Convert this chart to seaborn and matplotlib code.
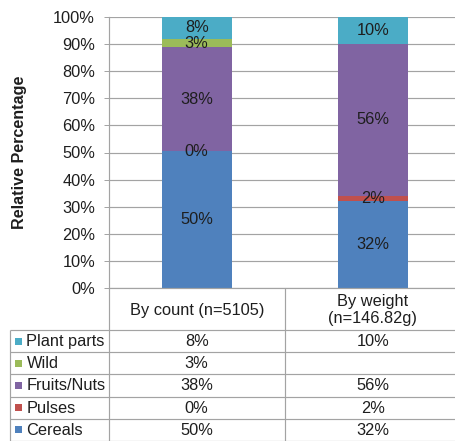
import matplotlib
matplotlib.use("Agg")
import matplotlib.pyplot as plt
import numpy as np
import pandas as pd
import seaborn as sns
from matplotlib.patches import Rectangle

# ---- data -------------------------------------------------------------
categories = ["By count (n=5105)", "By weight\n(n=146.82g)"]
# stacking order, bottom to top
series = ["Cereals", "Pulses", "Fruits/Nuts", "Wild", "Plant parts"]
cereals = [50, 32]
pulses = [0, 2]
fruits_nuts = [38, 56]
wild = [3, None]
plant_parts = [8, 10]
colors = ["#4F81BD", "#C0504D", "#8064A2", "#9BBB59", "#4BACC6"]
y_ticks = [0, 10, 20, 30, 40, 50, 60, 70, 80, 90, 100]
y_tick_labels = [f"{t}%" for t in y_ticks]
y_label = "Relative Percentage"

# ---- style ------------------------------------------------------------
plt.rcParams["font.family"] = ["Liberation Sans", "DejaVu Sans"]
TEXT = "#1e1e1e"
LINE = "#a3a3a3"
FS = 11.8

values = np.array([cereals, pulses, fruits_nuts, wild, plant_parts], dtype=float)
filled = np.nan_to_num(values)
share = filled / filled.sum(axis=0) * 100          # 100% stacked
tops = np.cumsum(share, axis=0)

W, H = 455, 441
fig = plt.figure(figsize=(W / 100, H / 100), dpi=100)

ax_left, ax_right, ax_top, ax_bot = 108.7, 460.7, 17.0, 288.0
ax = fig.add_axes([ax_left / W, 1 - ax_bot / H,
                   (ax_right - ax_left) / W, (ax_bot - ax_top) / H])

# stacked bars: draw cumulative heights from the top series down
for i in reversed(range(len(series))):
    df = pd.DataFrame({"category": categories, "top": tops[i]})
    sns.barplot(data=df, x="category", y="top", color=colors[i], width=0.4,
                saturation=1, linewidth=0, ax=ax, zorder=2)

# segment labels
for i in range(len(series)):
    for j in range(len(categories)):
        if np.isnan(values[i, j]):
            continue
        ymid = tops[i, j] - share[i, j] / 2
        ax.text(j, ymid, f"{values[i, j]:.0f}%", ha="center", va="center",
                fontsize=FS, color=TEXT, zorder=3)

ax.set_xlim(-0.5, 1.5)
ax.set_ylim(0, 100)
ax.set_yticks(y_ticks)
ax.set_yticklabels(y_tick_labels)
ax.set_xlabel("")
ax.set_ylabel("")
ax.set_xticks([])
ax.set_axisbelow(True)
ax.yaxis.grid(True, color=LINE, linewidth=0.85)
ax.xaxis.grid(False)
for s in ["top", "right"]:
    ax.spines[s].set_visible(False)
for s in ["left", "bottom"]:
    ax.spines[s].set_color(LINE)
    ax.spines[s].set_linewidth(0.85)
ax.tick_params(axis="y", length=3.3, width=0.7, color=LINE, pad=6.5,
               labelsize=FS, labelcolor=TEXT)

fig.text(19.5 / W, 1 - 152.5 / H, y_label, rotation=90, ha="center",
         va="center", fontsize=11.6, fontweight="bold", color=TEXT)

# ---- data table below the plot ---------------------------------------
tab = fig.add_axes([0, 0, 1, 1], zorder=-1)
tab.set_xlim(0, W)
tab.set_ylim(H, 0)
tab.axis("off")

col_x = [ax.transData.transform((j, 0))[0] for j in range(len(categories))]
divider = (col_x[0] + col_x[1]) / 2
header_bot = 330.0
row_h = 22.2
left_x = 10.0
n_rows = len(series)
row_edges = [header_bot + k * row_h for k in range(n_rows + 1)]

lk = dict(color=LINE, linewidth=0.85, solid_capstyle="butt")
# vertical rules
tab.plot([ax_left, ax_left], [ax_bot, row_edges[-1]], **lk)
tab.plot([divider, divider], [ax_bot, row_edges[-1]], **lk)
tab.plot([left_x, left_x], [header_bot, row_edges[-1]], **lk)
# horizontal rules
for yv in row_edges:
    tab.plot([left_x, W], [yv, yv], **lk)

# header
for j, cat in enumerate(categories):
    tab.text(col_x[j], (ax_bot + header_bot) / 2 + 1, cat, ha="center",
             va="center", fontsize=FS, color=TEXT, linespacing=1.15)

# rows: top of stack first
for r, i in enumerate(reversed(range(n_rows))):
    yc = row_edges[r] + row_h / 2
    tab.add_patch(Rectangle((15, yc - 3.5), 7, 7, facecolor=colors[i],
                            edgecolor="none"))
    tab.text(26.5, yc + 0.5, series[i], ha="left", va="center", fontsize=FS,
             color=TEXT)
    for j in range(len(categories)):
        v = values[i, j]
        if np.isnan(v):
            continue
        tab.text(col_x[j], yc + 0.5, f"{v:.0f}%", ha="center", va="center",
                 fontsize=FS, color=TEXT)

fig.savefig("out.png", dpi=100)
